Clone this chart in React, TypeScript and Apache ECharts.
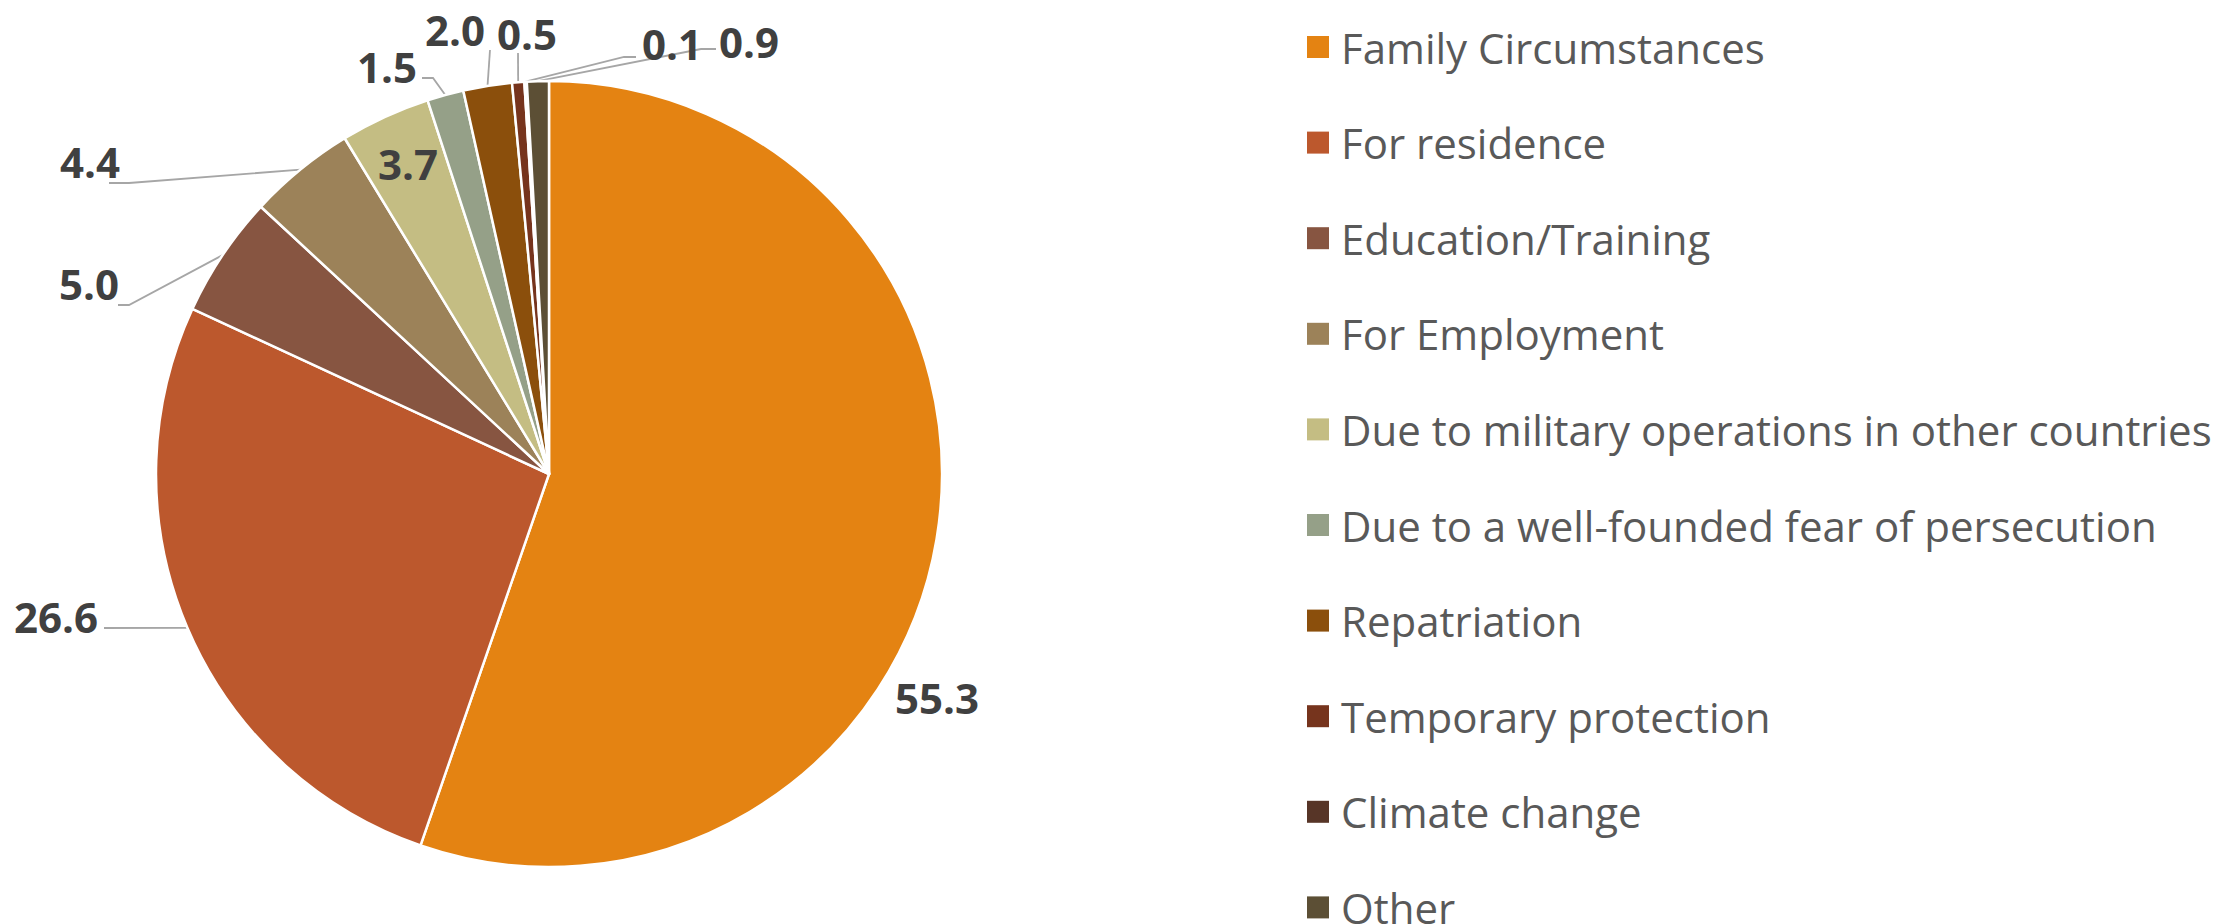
import React, { useEffect, useRef } from "react";
import * as echarts from "echarts";

const categories = [
  "Family Circumstances",
  "For residence",
  "Education/Training",
  "For Employment",
  "Due to military operations in other countries",
  "Due to a well-founded fear of persecution",
  "Repatriation",
  "Temporary protection",
  "Climate change",
  "Other",
];
const values = [55.3, 26.6, 5.0, 4.4, 3.7, 1.5, 2.0, 0.5, 0.1, 0.9];
const colors = [
  "#E48312",
  "#BC582D",
  "#875541",
  "#9C8259",
  "#C4BD83",
  "#95A088",
  "#8B4F0C",
  "#76341D",
  "#573527",
  "#5C4F35",
];

// Label placement (chart pixels), mimicking the original manual layout
const labelCenters: number[][] = [
  [937, 697],
  [56, 616],
  [89, 283],
  [90, 161],
  [408, 163],
  [387, 66],
  [455, 29],
  [527, 33],
  [672, 43],
  [749, 41],
];
// Leader-line points after the slice-edge anchor (null = no leader line)
const leaderTails: (number[][] | null)[] = [
  null,
  [[104, 628]],
  [[129, 305], [118, 305]],
  [[129, 183], [109, 183]],
  null,
  [[433, 78], [422, 78]],
  [[490, 50]],
  [[518, 53]],
  [[624, 57], [636, 57]],
  [[701, 49], [716, 49]],
];

export default function App() {
  const ref = useRef<HTMLDivElement>(null);
  useEffect(() => {
    if (!ref.current) return;
    const chart = echarts.init(ref.current, undefined, { renderer: "svg" });
    const data = categories.map((name, i) => ({
      name,
      value: values[i],
      itemStyle: { color: colors[i] },
      labelLine: { show: leaderTails[i] !== null },
    }));
    chart.setOption({
      animation: false,
      backgroundColor: "#ffffff",
      legend: {
        orient: "vertical",
        left: 1307,
        top: 26,
        height: 905,
        padding: 0,
        itemWidth: 22,
        itemHeight: 22,
        itemGap: 53.6,
        icon: "rect",
        selectedMode: false,
        itemStyle: { borderWidth: 0 },
        textStyle: {
          fontFamily: "Open Sans",
          fontSize: 42,
          color: "#595959",
          padding: [0, 0, 0, 7],
        },
        data: categories,
      },
      series: [
        {
          type: "pie",
          center: [549, 474],
          radius: 393,
          startAngle: 90,
          clockwise: true,
          avoidLabelOverlap: false,
          emphasis: { disabled: true },
          itemStyle: { borderColor: "#ffffff", borderWidth: 2.5 },
          label: {
            show: true,
            position: "outside",
            formatter: (p: any) => Number(p.value).toFixed(1),
            fontFamily: "Open Sans",
            fontWeight: "bold",
            fontSize: 42,
            color: "#404040",
          },
          labelLine: {
            show: true,
            lineStyle: { color: "#A6A6A6", width: 1.8 },
          },
          labelLayout: (params: any) => {
            const i = params.dataIndex;
            const [x, y] = labelCenters[i];
            const res: any = {
              x,
              y,
              align: "center",
              verticalAlign: "middle",
              hideOverlap: false,
              moveOverlap: false,
            };
            const tail = leaderTails[i];
            if (tail && params.labelLinePoints && params.labelLinePoints.length) {
              res.labelLinePoints = [params.labelLinePoints[0], ...tail];
            }
            return res;
          },
          data,
        },
      ],
    });
    return () => chart.dispose();
  }, []);
  return (
    <div
      ref={ref}
      style={{ position: "absolute", left: 0, top: 0, width: 2220, height: 924 }}
    />
  );
}
